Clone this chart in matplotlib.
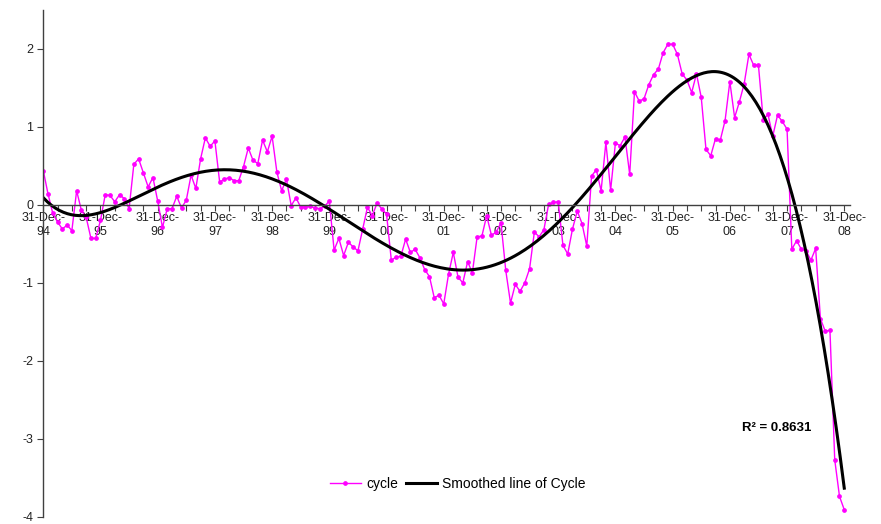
import numpy as np
import matplotlib.pyplot as plt

plt.rcParams['font.family'] = ['Liberation Sans', 'DejaVu Sans']

# monthly cycle readings, 31-Dec-94 .. 31-Dec-08
cycle = [
    0.44, 0.14, -0.11, -0.22, -0.31, -0.26, -0.33, 0.18, -0.07, -0.16, -0.43, -0.43,
    -0.20, 0.13, 0.12, 0.04, 0.13, 0.08, -0.05, 0.52, 0.59, 0.41, 0.23, 0.35,
    0.05, -0.29, -0.05, -0.05, 0.11, -0.04, 0.06, 0.38, 0.21, 0.59, 0.86, 0.75,
    0.82, 0.29, 0.33, 0.35, 0.31, 0.31, 0.49, 0.73, 0.57, 0.53, 0.83, 0.68,
    0.88, 0.42, 0.18, 0.33, -0.01, 0.09, -0.03, -0.03, -0.02, -0.04, -0.05, -0.02,
    0.05, -0.58, -0.43, -0.65, -0.48, -0.54, -0.59, -0.31, -0.03, -0.14, 0.02, -0.05,
    -0.12, -0.71, -0.67, -0.66, -0.44, -0.61, -0.57, -0.68, -0.83, -0.92, -1.19, -1.16,
    -1.27, -0.89, -0.61, -0.93, -1.00, -0.73, -0.87, -0.41, -0.40, -0.14, -0.39, -0.35,
    -0.23, -0.84, -1.26, -1.02, -1.11, -1.00, -0.82, -0.35, -0.41, -0.32, 0.01, 0.03,
    0.04, -0.52, -0.63, -0.31, -0.08, -0.24, -0.53, 0.37, 0.45, 0.18, 0.80, 0.19,
    0.79, 0.76, 0.87, 0.39, 1.45, 1.33, 1.36, 1.54, 1.67, 1.74, 1.95, 2.06,
    2.06, 1.93, 1.68, 1.60, 1.44, 1.68, 1.38, 0.71, 0.63, 0.85, 0.83, 1.08,
    1.58, 1.12, 1.32, 1.55, 1.93, 1.79, 1.79, 1.09, 1.16, 0.88, 1.15, 1.07,
    0.97, -0.57, -0.46, -0.57, -0.59, -0.71, -0.56, -1.46, -1.62, -1.61, -3.27, -3.74,
    -3.91,
]
year_labels = ['94', '95', '96', '97', '98', '99', '00', '01',
               '02', '03', '04', '05', '06', '07', '08']
r_squared_text = 'R² = 0.8631'

months = np.arange(len(cycle))
span = months[-1]

# 6th order polynomial trend
coefs = np.polyfit(months / span, cycle, 6)
smooth_x = np.linspace(0, span, 400)
smooth_y = np.polyval(coefs, smooth_x / span)

fig = plt.figure(figsize=(8.81, 5.24), dpi=100)
ax = fig.add_axes([0.0491, 0.0139, 0.9157, 0.9672])

ax.plot(months, cycle, color='#FF00FF', lw=1, marker='o', ms=2.4,
        label='cycle')
ax.plot(smooth_x, smooth_y, color='black', lw=2.2,
        label='Smoothed line of Cycle')

ax.set_xlim(0, span + 1.2)
ax.set_ylim(-4, 2.5)

for side in ('top', 'right'):
    ax.spines[side].set_visible(False)
ax.spines['bottom'].set_position(('data', 0))
for side in ('bottom', 'left'):
    ax.spines[side].set_color('#404040')
    ax.spines[side].set_linewidth(1)

ax.set_yticks(range(-4, 3))
ax.set_yticklabels([str(v) for v in range(-4, 3)])

ticks = list(range(0, span + 1, 3))
labels = []
for t in ticks:
    if t % 12 == 0:
        labels.append('31-Dec-\n' + year_labels[t // 12])
    else:
        labels.append('')
ax.set_xticks(ticks)
ax.set_xticklabels(labels)

ax.tick_params(axis='x', direction='out', length=4, pad=1.5, labelsize=9,
               color='#404040', labelcolor='#222222')
ax.tick_params(axis='y', direction='out', length=4, pad=3, labelsize=9,
               color='#404040', labelcolor='#222222')

ax.legend(loc='center', bbox_to_anchor=(458 / 881, 1 - 484 / 524),
          bbox_transform=fig.transFigure, ncol=2, frameon=False, fontsize=10,
          numpoints=1, handlelength=2.2, columnspacing=0.6, handletextpad=0.4)

fig.text(742 / 881, 1 - 428 / 524, r_squared_text, fontsize=9.5,
         fontweight='bold', va='center', ha='left')

fig.savefig('out.png', dpi=100)
